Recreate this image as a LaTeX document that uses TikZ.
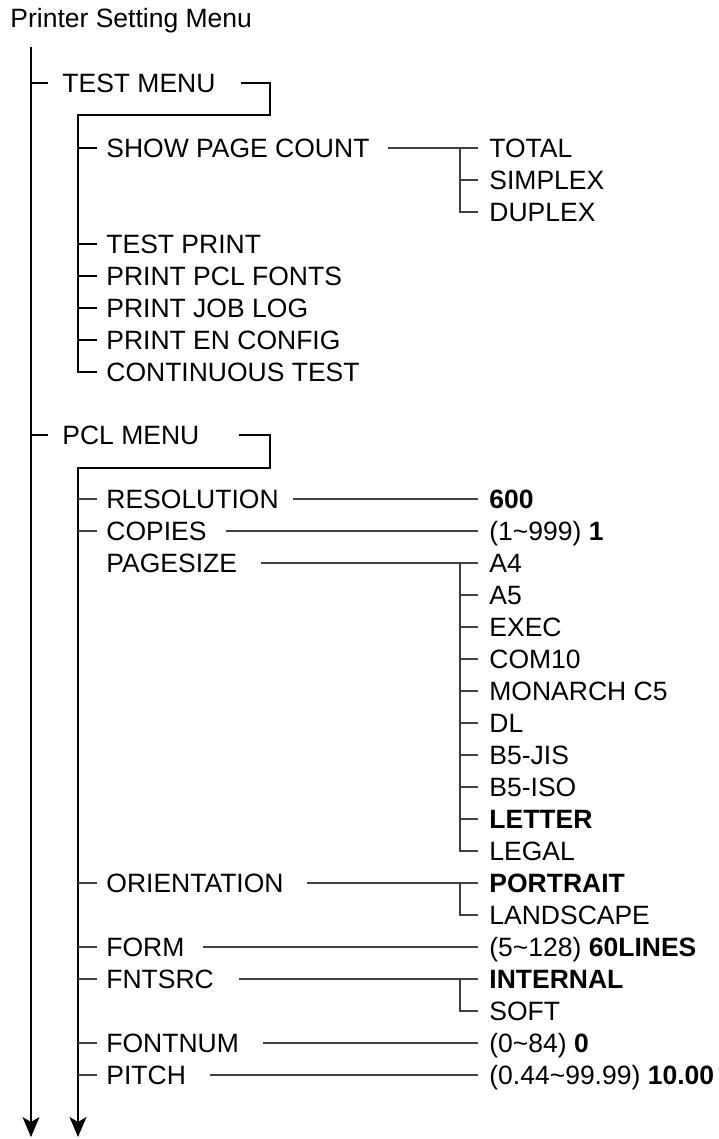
\documentclass[tikz,border=0pt]{standalone}
\usepackage{fontspec}
\setmainfont{Liberation Sans}
\usetikzlibrary{arrows.meta}

\begin{document}
\begin{tikzpicture}[
  x=0.5pt, y=-0.5pt,
  font=\fontsize{13.25pt}{16pt}\selectfont,
  entry/.style={anchor=west, inner sep=0pt, text height=12.75pt, text depth=3.25pt},
  bus/.style={draw, line width=0.6pt},
  wire/.style={draw=black!75, line width=0.55pt},
  spine/.style={bus, -{Stealth[length=10pt, width=8.5pt, inset=2.5pt]}},
]
\useasboundingbox (0,0) rectangle (718,1139);

\coordinate (trunk) at (31,47);
\coordinate (trunkend) at (31,1137);
\coordinate (fork) at (460,0);

\node[entry] (title) at (10,18) {Printer Setting Menu};
\draw[spine] (trunk) -- (trunkend);

% TEST MENU
\node[entry] (testmenu) at (62,83) {TEST MENU};
\coordinate (testturn) at (270,115);
\coordinate (testbus) at (78,115);
\foreach \n/\t/\y in {showcount/SHOW PAGE COUNT/148, testprint/TEST PRINT/244,
    pclfonts/PRINT PCL FONTS/276, joblog/PRINT JOB LOG/308,
    enconfig/PRINT EN CONFIG/340, conttest/CONTINUOUS TEST/372}
  \node[entry] (\n) at (106,\y) {\t};
\foreach \n/\t/\y in {total/TOTAL/148, simplex/SIMPLEX/180, duplex/DUPLEX/212}
  \node[entry] (\n) at (489,\y) {\t};

\draw[bus] (testmenu.west -| trunk) -- ([xshift=-7pt]testmenu.west);
\draw[bus] ([xshift=12.5pt]testmenu.east) -| (testturn) -- (testbus)
  |- ([xshift=-4.5pt]conttest.west);
\foreach \n in {showcount, testprint, pclfonts, joblog, enconfig}
  \draw[bus] (\n.west -| testbus) -- ([xshift=-4.5pt]\n.west);
\draw[wire] ([xshift=9pt]showcount.east) -- ([xshift=-5.5pt]total.west);
\draw[wire] (total.west -| fork) |- ([xshift=-5.5pt]duplex.west);
\draw[wire] (simplex.west -| fork) -- ([xshift=-5.5pt]simplex.west);

% PCL MENU
\node[entry] (pclmenu) at (62,435) {PCL MENU};
\coordinate (pclturn) at (270,468);
\coordinate (pclbus) at (78,468);
\coordinate (pclend) at (78,1137);
\foreach \n/\t/\y in {resolution/RESOLUTION/499, copies/COPIES/531,
    pagesize/PAGESIZE/563, orientation/ORIENTATION/883, form/FORM/947,
    fntsrc/FNTSRC/979, fontnum/FONTNUM/1043, pitch/PITCH/1075}
  \node[entry] (\n) at (106,\y) {\t};
\foreach \n/\t/\y in {res600/{\textbf{600}}/499,
    copyval/{(1\textasciitilde 999) \textbf{1}}/531,
    a4/A4/563, a5/A5/595, exec/EXEC/627, com10/COM10/659,
    monarch/MONARCH C5/691, dl/DL/723, b5jis/B5-JIS/755, b5iso/B5-ISO/787,
    letter/{\textbf{LETTER}}/819, legal/LEGAL/851,
    portrait/{\textbf{PORTRAIT}}/883, landscape/LANDSCAPE/915,
    formval/{(5\textasciitilde 128) \textbf{60LINES}}/947,
    internal/{\textbf{INTERNAL}}/979, soft/SOFT/1011,
    fontnumval/{(0\textasciitilde 84) \textbf{0}}/1043,
    pitchval/{(0.44\textasciitilde 99.99) \textbf{10.00}}/1075}
  \node[entry] (\n) at (489,\y) {\t};

\draw[bus] (pclmenu.west -| trunk) -- ([xshift=-7pt]pclmenu.west);
\draw[spine] ([xshift=19.5pt]pclmenu.east) -| (pclturn) -- (pclbus) -- (pclend);
\foreach \n in {resolution, copies, orientation, form, fntsrc, fontnum, pitch}
  \draw[wire] (\n.west -| pclbus) -- ([xshift=-4.5pt]\n.west);
\foreach \a/\b/\g in {resolution/res600/7pt, copies/copyval/9.5pt,
    pagesize/a4/11.75pt, orientation/portrait/11.5pt, form/formval/9pt,
    fntsrc/internal/12.25pt, fontnum/fontnumval/11.75pt, pitch/pitchval/11.75pt}
  \draw[wire] ([xshift=\g]\a.east) -- ([xshift=-5.5pt]\b.west);
\draw[wire] (a4.west -| fork) |- ([xshift=-5.5pt]legal.west);
\foreach \n in {a5, exec, com10, monarch, dl, b5jis, b5iso, letter}
  \draw[wire] (\n.west -| fork) -- ([xshift=-5.5pt]\n.west);
\draw[wire] (portrait.west -| fork) |- ([xshift=-5.5pt]landscape.west);
\draw[wire] (internal.west -| fork) |- ([xshift=-5.5pt]soft.west);
\end{tikzpicture}
\end{document}
